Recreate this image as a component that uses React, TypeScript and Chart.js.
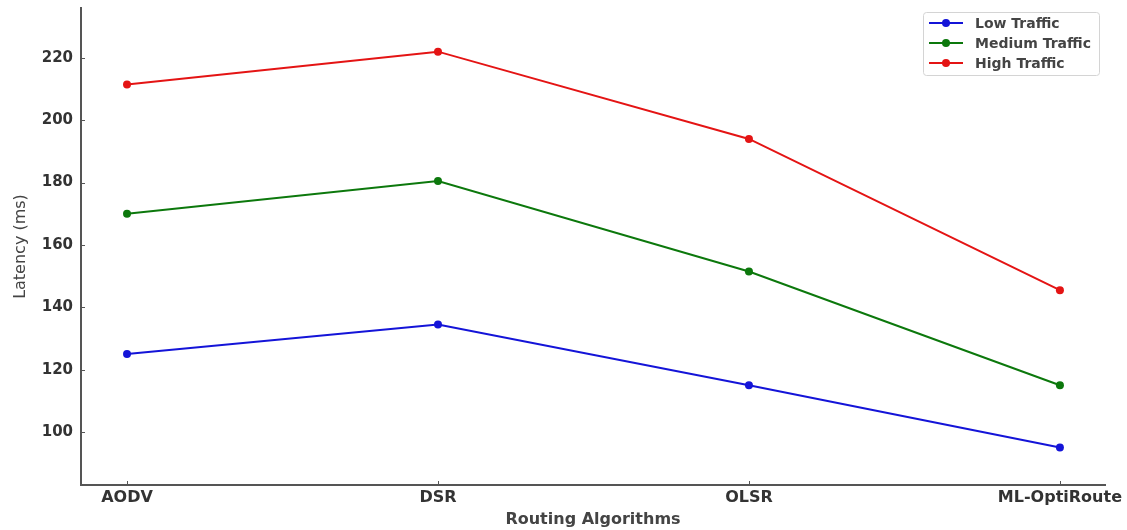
import React, { useEffect, useRef } from "react";
import { Chart, registerables } from "chart.js";

Chart.register(...registerables);

const categories = ["AODV", "DSR", "OLSR", "ML-OptiRoute"];
const lowTraffic = [125, 134.5, 115, 95];
const mediumTraffic = [170, 180.5, 151.5, 115];
const highTraffic = [211.5, 222, 194, 145.5];
const yTickValues = [100, 120, 140, 160, 180, 200, 220];

const FONT = "'DejaVu Sans', sans-serif";
const AXIS_COLOR = "#555";

const innerTicksPlugin = {
  id: "innerTicks",
  afterDraw(chart: any) {
    const ctx = chart.ctx;
    const xs = chart.scales.x;
    const ys = chart.scales.y;
    const area = chart.chartArea;
    ctx.save();
    ctx.strokeStyle = AXIS_COLOR;
    ctx.lineWidth = 1;
    xs.ticks.forEach((t: any) => {
      const px = Math.round(xs.getPixelForValue(t.value)) + 0.5;
      ctx.beginPath();
      ctx.moveTo(px, area.bottom);
      ctx.lineTo(px, area.bottom - 4);
      ctx.stroke();
    });
    ys.ticks.forEach((t: any) => {
      const py = Math.round(ys.getPixelForValue(t.value)) + 0.5;
      ctx.beginPath();
      ctx.moveTo(area.left, py);
      ctx.lineTo(area.left + 4, py);
      ctx.stroke();
    });
    ctx.restore();
  },
};

const legendPlugin = {
  id: "mplLegend",
  afterDraw(chart: any) {
    const ctx = chart.ctx;
    const x0 = 923, y0 = 12, w = 176, h = 63;
    ctx.save();
    ctx.fillStyle = "rgba(255,255,255,0.85)";
    ctx.strokeStyle = "#d4d4d4";
    ctx.lineWidth = 1;
    ctx.beginPath();
    ctx.roundRect(x0 + 0.5, y0 + 0.5, w, h, 3);
    ctx.fill();
    ctx.stroke();
    chart.data.datasets.forEach((ds: any, i: number) => {
      const y = y0 + 11 + i * 20;
      ctx.strokeStyle = ds.borderColor;
      ctx.lineWidth = 2;
      ctx.beginPath();
      ctx.moveTo(929, y);
      ctx.lineTo(963, y);
      ctx.stroke();
      ctx.fillStyle = ds.borderColor;
      ctx.beginPath();
      ctx.arc(946, y, 4, 0, Math.PI * 2);
      ctx.fill();
      ctx.fillStyle = "#444";
      ctx.font = `bold 14px ${FONT}`;
      ctx.textBaseline = "middle";
      ctx.textAlign = "left";
      ctx.fillText(ds.label, 975, y + 1);
    });
    ctx.restore();
  },
};

export default function App() {
  const ref = useRef<HTMLCanvasElement | null>(null);
  useEffect(() => {
    if (!ref.current) return;
    const mk = (label: string, data: number[], color: string) => ({
      label,
      data: data.map((v, i) => ({ x: i, y: v })),
      borderColor: color,
      backgroundColor: color,
      borderWidth: 2,
      pointRadius: 4,
      pointHoverRadius: 4,
      pointBorderWidth: 0,
      tension: 0,
    });
    const chart = new Chart(ref.current, {
      type: "line",
      data: {
        datasets: [
          mk("Low Traffic", lowTraffic, "#1414d8"),
          mk("Medium Traffic", mediumTraffic, "#0c780c"),
          mk("High Traffic", highTraffic, "#e41414"),
        ],
      },
      options: {
        animation: false,
        responsive: true,
        maintainAspectRatio: false,
        layout: { padding: { top: 8, right: 22, left: 8, bottom: 0 } },
        plugins: { legend: { display: false }, tooltip: { enabled: false } },
        scales: {
          x: {
            type: "linear",
            min: -0.148,
            max: 3.145,
            afterBuildTicks: (s: any) => {
              s.ticks = categories.map((_, i) => ({ value: i }));
            },
            afterFit: (s: any) => {
              s.height = 45;
              s.paddingLeft = 0;
              s.paddingRight = 0;
            },
            ticks: {
              callback: (v: any) => categories[v as number] ?? "",
              color: "#333",
              font: { family: FONT, size: 16, weight: "bold" },
              padding: 3,
              maxRotation: 0,
              autoSkip: false,
            },
            grid: { drawOnChartArea: false, drawTicks: false },
            border: { display: true, color: AXIS_COLOR, width: 2 },
            title: {
              display: true,
              text: "Routing Algorithms",
              color: "#444",
              font: { family: FONT, size: 16, weight: "bold" },
              padding: { top: 0, bottom: 1 },
            },
          },
          y: {
            type: "linear",
            min: 83,
            max: 236,
            afterBuildTicks: (s: any) => {
              s.ticks = yTickValues.map((v) => ({ value: v }));
            },
            afterFit: (s: any) => {
              s.width = 73;
              s.paddingTop = 0;
              s.paddingBottom = 0;
            },
            ticks: {
              color: "#333",
              font: { family: FONT, size: 15, weight: "bold" },
              padding: 8,
            },
            grid: { drawOnChartArea: false, drawTicks: false },
            border: { display: true, color: AXIS_COLOR, width: 2 },
            title: {
              display: true,
              text: "Latency (ms)",
              color: "#444",
              font: { family: FONT, size: 16 },
              padding: { top: 3, bottom: 0 },
            },
          },
        },
      },
      plugins: [innerTicksPlugin, legendPlugin],
    });
    return () => chart.destroy();
  }, []);
  return (
    <div style={{ position: "fixed", left: 0, top: 0, width: 1127, height: 530, background: "#fff" }}>
      <canvas ref={ref} />
    </div>
  );
}
